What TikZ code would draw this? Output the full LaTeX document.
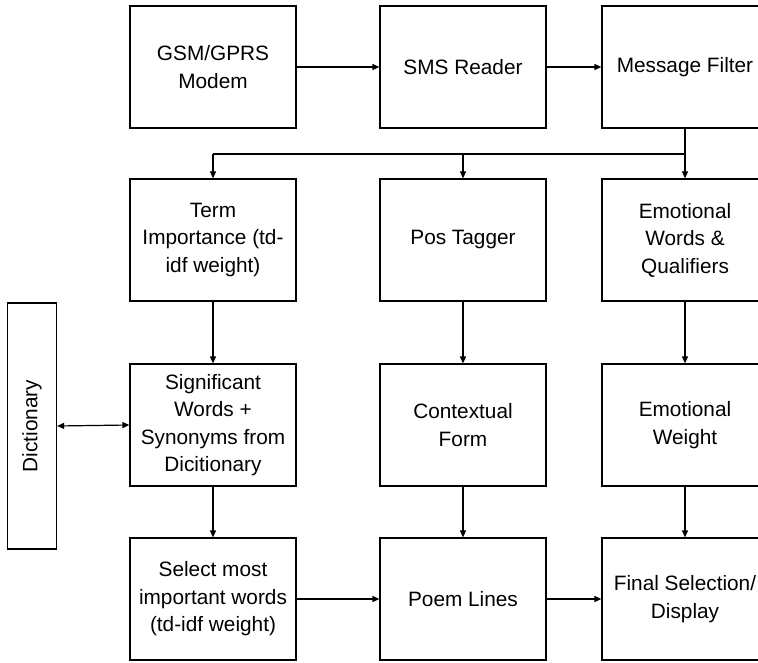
\documentclass[tikz,border=0pt]{standalone}
\usepackage{fontspec}
\setmainfont{Liberation Sans}
\usetikzlibrary{arrows.meta}
\begin{document}
\begin{tikzpicture}[x=1pt,y=-1pt,
  blockbox/.style={draw, line width=1.2pt, minimum width=166pt, minimum height=122pt,
    align=center, inner sep=0pt, font=\fontsize{20.8}{27.5}\selectfont},
  flow/.style={line width=1.2pt, -{Triangle[length=7pt,width=6pt]}},
  bothflow/.style={line width=1.2pt, {Triangle[length=7pt,width=6pt]}-{Triangle[length=7pt,width=6pt]}}]
\useasboundingbox (0,0) rectangle (758,663);
\clip (0,0) rectangle (758,663);
% first row: input chain
\node[blockbox] (gsm) at (213,67) {GSM/GPRS\\Modem};
\node[blockbox] (sms) at (463,67) {SMS Reader};
\node[blockbox] (filter) at (685,67) {Message Filter};
% second row: analysis
\node[blockbox] (term) at (213,240) {Term\\Importance (td-\\idf weight)};
\node[blockbox] (pos) at (463,240) {Pos Tagger};
\node[blockbox] (emo) at (685,240) {Emotional\\Words \&\\Qualifiers};
% third row
\node[blockbox] (sig) at (213,425) {Significant\\Words +\\Synonyms from\\Dicitionary};
\node[blockbox] (ctx) at (463,425) {Contextual\\Form};
\node[blockbox] (ew) at (685,425) {Emotional\\Weight};
% fourth row: output
\node[blockbox] (sel) at (213,599) {Select most\\important words\\(td-idf weight)};
\node[blockbox] (poem) at (463,599) {Poem Lines};
\node[blockbox] (final) at (685,599) {Final Selection/\\Display};
% side store
\node[draw, line width=1.2pt, rotate=90, minimum width=246pt, minimum height=49pt,
  inner sep=0pt, font=\fontsize{20.8}{27.5}\selectfont] (dict) at (32,426) {Dictionary};
% connectors
\draw[flow] (gsm) -- (sms);
\draw[flow] (sms) -- (filter);
\coordinate (split) at (685,154);
\draw[flow] (filter) -- (emo);
\draw[line width=1.2pt] (split) -- (213,154);
\draw[flow] (213,154) -- (term);
\draw[flow] (463,154) -- (pos);
\draw[flow] (term) -- (sig);
\draw[flow] (pos) -- (ctx);
\draw[flow] (emo) -- (ew);
\draw[flow] (sig) -- (sel);
\draw[flow] (ctx) -- (poem);
\draw[flow] (ew) -- (final);
\draw[flow] (sel) -- (poem);
\draw[flow] (poem) -- (final);
\draw[bothflow] (dict.south) -- (sig.west);
\end{tikzpicture}
\end{document}
